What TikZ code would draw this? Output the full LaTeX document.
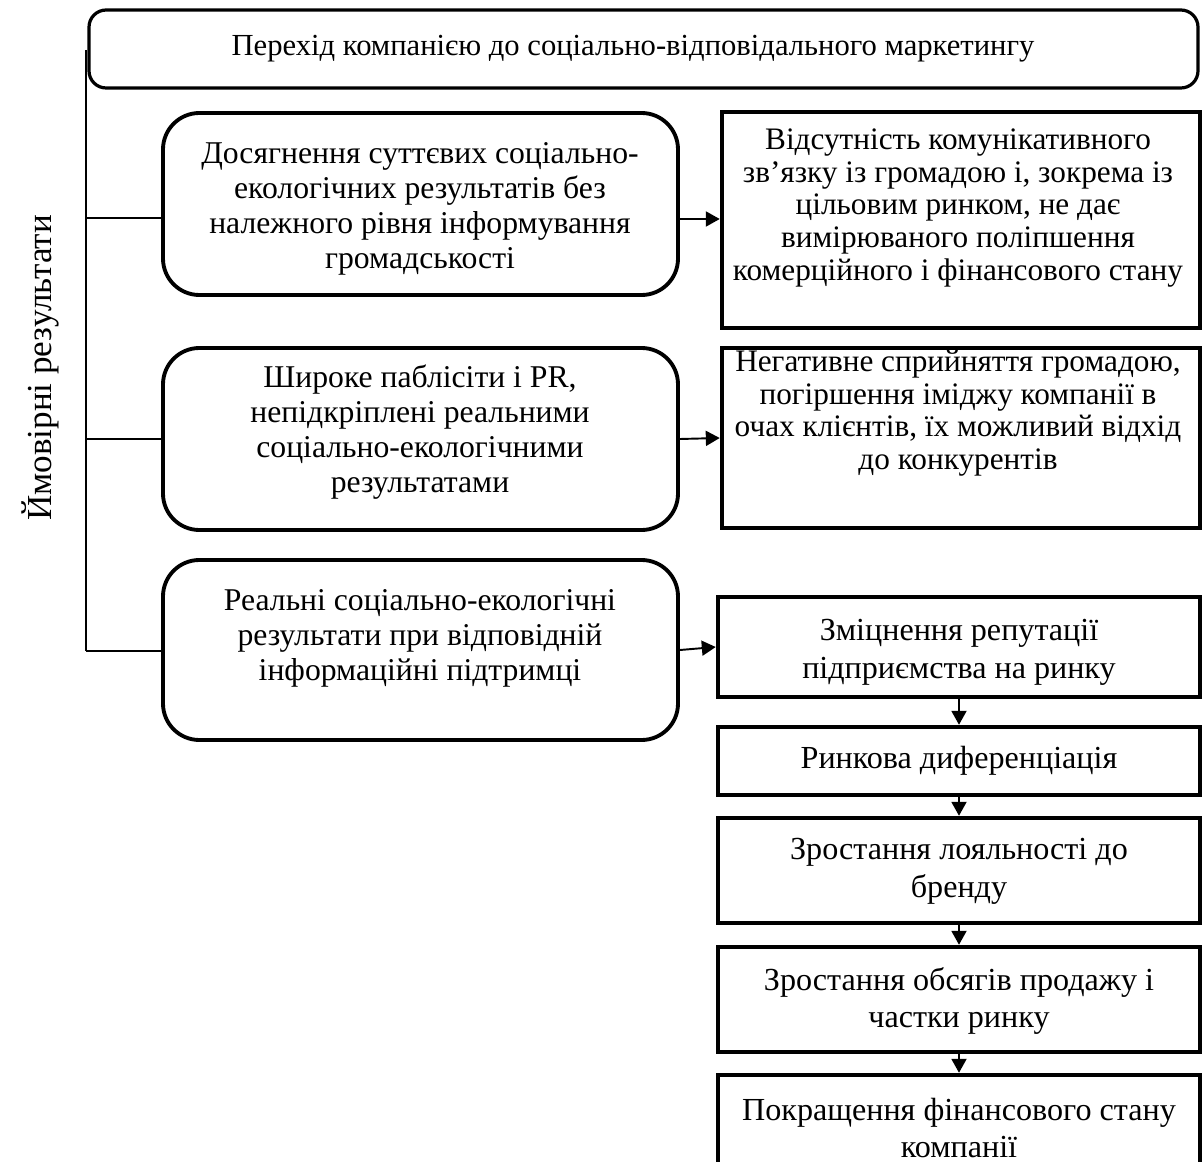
\documentclass[tikz,border=0pt]{standalone}
\usepackage{fontspec}
\setmainfont{Liberation Serif}
\usetikzlibrary{arrows.meta}
\newcommand\pxu{0.467pt}
\tikzset{
  topbox/.style={draw, line width=1.5pt, rounded corners=8pt, inner sep=0pt},
  rbox/.style={draw, line width=1.8pt, rounded corners=17pt, inner sep=0pt},
  sbox/.style={draw, line width=2.1pt, inner sep=0pt},
  lbl/.style={align=center, inner sep=0pt, font=\fontsize{14.8}{16.3}\selectfont},
  slbl/.style={align=center, inner sep=0pt, font=\fontsize{14.6}{15.2}\selectfont},
  clbl/.style={align=center, inner sep=0pt, font=\fontsize{15}{17.7}\selectfont},
  toplbl/.style={inner sep=0pt, font=\fontsize{14.3}{16}\selectfont},
  sidelbl/.style={inner sep=0pt, font=\fontsize{16.4}{18}\selectfont},
  arr/.style={line width=0.9pt, -{Triangle[length=6.5pt,width=7pt]}},
  brk/.style={line width=0.7pt}
}
\begin{document}
\begin{tikzpicture}[x=0.467pt,y=-0.467pt]
\useasboundingbox (0,0) rectangle (1203,1162);
\clip (0,0) rectangle (1203,1162);
% boxes
\node[topbox, minimum width=1109*\pxu, minimum height=78*\pxu] (top) at (643.5,49) {};
\node[toplbl] (ttop) at (633,49) {Перехід компанією до соціально-відповідального маркетингу};

\node[rbox, minimum width=515*\pxu, minimum height=182*\pxu] (r2) at (420.5,204) {};
\node[lbl] (tr2) at (420,209) {Досягнення суттєвих соціально-\\екологічних результатів без\\належного рівня інформування\\громадськості};

\node[rbox, minimum width=515*\pxu, minimum height=182*\pxu] (r3) at (420.5,439) {};
\node[lbl] (tr3) at (420,432) {Широке паблісіти і PR,\\непідкріплені реальними\\соціально-екологічними\\результатами};

\node[rbox, minimum width=515*\pxu, minimum height=180*\pxu] (r4) at (420.5,650) {};
\node[lbl] (tr4) at (420,638) {Реальні соціально-екологічні\\результати при відповідній\\інформаційні підтримці};

\node[sbox, minimum width=478*\pxu, minimum height=216*\pxu] (s2) at (961,220) {};
\node[slbl] (ts2) at (958,208) {Відсутність комунікативного\\зв’язку із громадою і, зокрема із\\цільовим ринком, не дає\\вимірюваного поліпшення\\комерційного і фінансового стану};

\node[sbox, minimum width=478*\pxu, minimum height=180*\pxu] (s3) at (961,438) {};
\node[slbl] (ts3) at (958,413) {Негативне сприйняття громадою,\\погіршення іміджу компанії в\\очах клієнтів, їх можливий відхід\\до конкурентів};

\node[sbox, minimum width=482*\pxu, minimum height=100*\pxu] (c1) at (959,647) {};
\node[clbl] (tc1) at (959,652) {Зміцнення репутації\\підприємства на ринку};

\node[sbox, minimum width=482*\pxu, minimum height=68*\pxu] (c2) at (959,761) {};
\node[clbl] (tc2) at (959,761) {Ринкова диференціація};

\node[sbox, minimum width=482*\pxu, minimum height=105*\pxu] (c3) at (959,870.5) {};
\node[clbl] (tc3) at (959,871) {Зростання лояльності до\\бренду};

\node[sbox, minimum width=482*\pxu, minimum height=105*\pxu] (c4) at (959,999.5) {};
\node[clbl] (tc4) at (959,1001) {Зростання обсягів продажу і\\частки ринку};

\node[sbox, minimum width=482*\pxu, minimum height=150*\pxu] (c5) at (959,1150) {};
\node[clbl] (tc5) at (959,1128) {Покращення фінансового стану\\компанії};

% vertical label
\node[sidelbl, rotate=90] (side) at (40,368) {Ймовірні результати};

% bracket
\coordinate (v0) at (86,50);
\coordinate (v1) at (86,218);
\coordinate (v2) at (86,439);
\coordinate (v3) at (86,651);
\draw[brk] (v0) -- (v3);
\draw[brk] (v1) -- (r2.west |- v1);
\draw[brk] (v2) -- (r3.west |- v2);
\draw[brk] (v3) -- (r4.west |- v3);

% arrows
\coordinate (a1) at (700,219);
\draw[arr] (r2.east |- a1) -- (s2.west |- a1);
\draw[arr] (r3.east) -- (s3.west);
\draw[arr] (r4.east) -- (c1.west);
\draw[arr] (c1.south) -- (c2.north);
\draw[arr] (c2.south) -- (c3.north);
\draw[arr] (c3.south) -- (c4.north);
\draw[arr] (c4.south) -- (c5.north);
\end{tikzpicture}
\end{document}
